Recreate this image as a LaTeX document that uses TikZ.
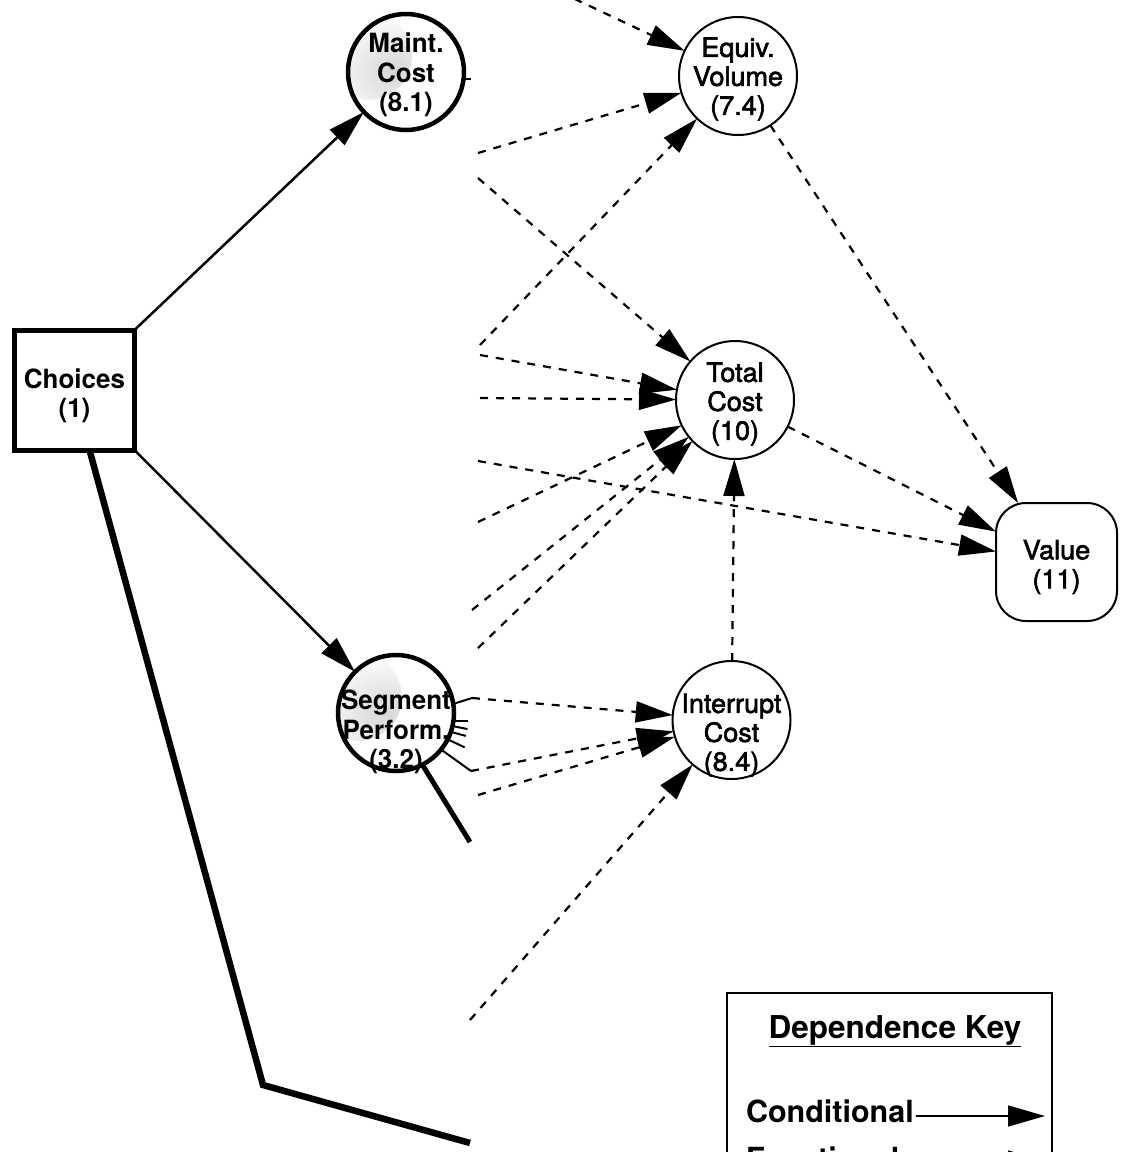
\documentclass[tikz,border=0pt]{standalone}
\usepackage{fontspec}
\setmainfont{TeX Gyre Heros}
\newfontfamily\heavyfont{TeX Gyre Heros}[FakeStretch=0.98]
\newfontfamily\lightfont{TeX Gyre Heros}[FakeStretch=1.02,FakeBold=2.2]
\newfontfamily\keyfont{TeX Gyre Heros}[FakeStretch=1.0]
\usetikzlibrary{arrows.meta}

\begin{document}
\begin{tikzpicture}[x=1pt,y=-1pt,
  every node/.style={inner sep=0pt, outer sep=0pt},
  boldtxt/.style={font=\heavyfont\bfseries\fontsize{26.5}{29.5}\selectfont, align=center},
  plaintxt/.style={font=\lightfont\fontsize{26.5}{29}\selectfont, align=center},
  keytxt/.style={font=\keyfont\bfseries\fontsize{30.5}{36}\selectfont},
  chance/.style={circle, draw, line width=2pt, minimum size=118pt},
  heavychance/.style={circle, draw, line width=4.5pt, minimum size=116pt,
    path picture={\shade[inner color=black!16, outer color=white]
      ([xshift=-38pt,yshift=16pt]path picture bounding box.center) circle (44pt);}},
  decision/.style={rectangle, draw, line width=5pt, minimum size=120pt},
  valuebox/.style={rectangle, draw, line width=2pt, rounded corners=30pt,
    minimum width=121pt, minimum height=118pt},
  tip/.style={-{Triangle[length=37pt,width=21pt]}},
  cond/.style={tip, line width=2.5pt},
  func/.style={tip, line width=2.2pt, dash pattern=on 8pt off 8pt},
  heavy/.style={line width=6.5pt, line join=miter},
  stub/.style={line width=2pt},
]
\useasboundingbox (0,0) rectangle (1121,1152);
\clip (0,0) rectangle (1121,1152);

% ---- nodes of the influence diagram ----
\node[decision, label={[boldtxt,yshift=-6pt]center:Choices\\(1)}] (choices) at (74.5,390) {};
\node[heavychance, label={[boldtxt,yshift=-3pt]center:Maint.\\Cost\\(8.1)}] (maint) at (406,72) {};
\node[heavychance, label={[boldtxt,yshift=-19pt]center:Segment\\Perform.\\(3.2)}] (seg) at (396,713) {};
\node[chance, label={[plaintxt,yshift=-3pt]center:Equiv.\\Volume\\(7.4)}] (equiv) at (738,76) {};
\node[chance, label={[plaintxt,yshift=-4pt]center:Total\\Cost\\(10)}] (total) at (735,400) {};
\node[chance, label={[plaintxt,yshift=-15pt]center:Interrupt\\Cost\\(8.4)}] (intr) at (731.5,720) {};
\node[valuebox, label={[plaintxt,yshift=-5pt]center:Value\\(11)}] (value) at (1056.5,562) {};

% ---- loose ends of connectors leaving the visible area ----
\coordinate (fVtop) at (560,-8);
\coordinate (fV1) at (478,153);
\coordinate (fV2) at (480,345);
\coordinate (fT1) at (478,178);
\coordinate (fT2) at (480,355);
\coordinate (fT3) at (480,398);
\coordinate (fVal) at (478,461);
\coordinate (fT4) at (478,522);
\coordinate (fT5) at (472,610);
\coordinate (fT6) at (478,648);
\coordinate (fI1) at (472,698);
\coordinate (fI2) at (471,771);
\coordinate (fI3) at (478,795);
\coordinate (fI4) at (470,1020);
\coordinate (bendL) at (263,1085);
\coordinate (cutL) at (470,1143);
\coordinate (cutS) at (470,842);

% ---- conditional dependences ----
\draw[cond] (choices.north east) -- (maint);
\draw[cond] (choices.south east) -- (seg);
\draw[heavy] ([xshift=15pt]choices.south) -- (bendL) -- (cutL);
\draw[line width=5pt] (seg.-63) -- (cutS);

% short stubs on the node borders
\draw[stub] (maint.-7) -- ++(7,0);
\draw[stub] (seg.9) -- (fI1);
\draw[stub] (seg.-39) -- (fI2);
\draw[stub] (seg.-8) -- ++(15,0);
\draw[stub] (seg.-13.5) -- ++(15,3);
\draw[stub] (seg.-19) -- ++(15,4);
\draw[stub] (seg.-27) -- ++(17,8);

% ---- functional dependences ----
\draw[func] (fVtop) -- (equiv);
\draw[func] (fV1) -- (equiv);
\draw[func] (fV2) -- (equiv);
\draw[func] (fT1) -- (total);
\draw[func] (fT2) -- (total);
\draw[func] (fT3) -- (total);
\draw[func] (fT4) -- (total);
\draw[func] (fT5) -- (total);
\draw[func] (fT6) -- (total);
\draw[func] (fVal) -- (value);
\draw[func] (equiv) -- (value);
\draw[func] (total) -- (value);
\draw[func] (intr) -- (total);
\draw[func] (fI1) -- (intr);
\draw[func] (fI2) -- (intr);
\draw[func] (fI3) -- (intr);
\draw[func] (fI4) -- (intr);

% ---- dependence key ----
\node[draw, line width=2pt, rectangle, minimum width=325pt, minimum height=207pt] (key) at (889.5,1096.5) {};
\node[keytxt, font=\keyfont\bfseries\fontsize{31.5}{36}\selectfont] (keytitle) at (895,1031) {\underline{Dependence Key}};
\node[keytxt, anchor=base west] (condtxt) at (746,1122) {Conditional};
\node[keytxt, anchor=base west] (functxt) at (746,1169) {Functional};
\coordinate (condEnd) at (1045,1116);
\coordinate (funcEnd) at (1045,1161);
\draw[tip, line width=1.6pt] ([xshift=2pt]condtxt.east |- condEnd) -- (condEnd);
\draw[tip, line width=1.6pt, dash pattern=on 7pt off 9pt] ([xshift=6pt]functxt.east |- funcEnd) -- (funcEnd);
\end{tikzpicture}
\end{document}
